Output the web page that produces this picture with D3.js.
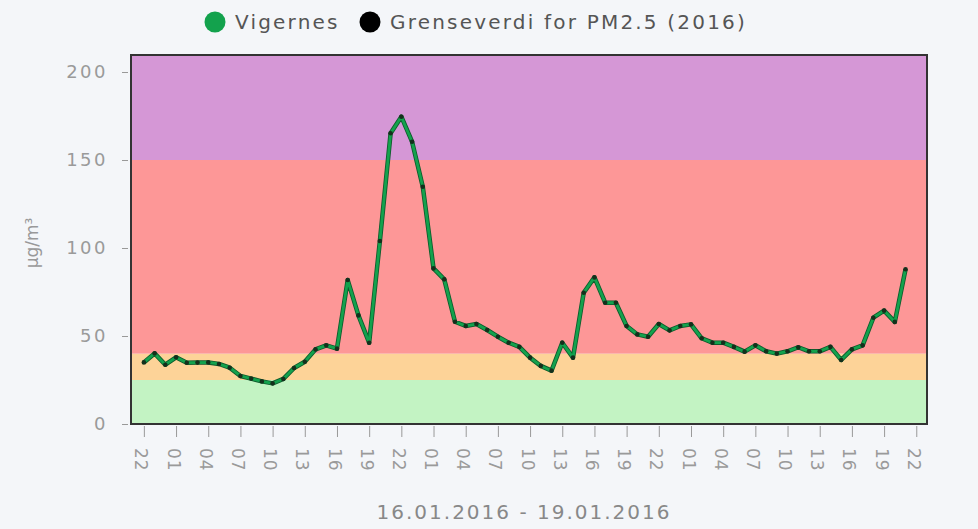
<!DOCTYPE html>
<html>
<head>
<meta charset="utf-8">
<script src="https://cdn.jsdelivr.net/npm/d3@7"></script>
<style>
  body { margin: 0; background: #f4f6f9; }
  svg { display: block; }
  text { font-family: "DejaVu Sans", Verdana, sans-serif; }
</style>
</head>
<body>
<svg id="chart" width="978" height="529"></svg>
<script>
// hourly PM2.5 readings, Vigernes, from 16.01.2016 22:00
var startHour = Date.UTC(2016, 0, 16, 22);
var values = [35.0, 40.1, 33.7, 37.9, 34.8, 34.9, 35.0, 34.1, 32.0, 27.3,
  25.8, 24.2, 23.1, 25.6, 31.8, 35.4, 42.4, 44.7, 42.8, 81.8,
  61.7, 46.2, 104, 165.2, 174.6, 160.4, 134.8, 88.4, 82.2, 58.1,
  55.7, 56.8, 53.4, 49.6, 46.2, 43.8, 37.7, 33.0, 30.3, 46.2,
  37.7, 74.6, 83.3, 68.9, 68.9, 55.7, 50.9, 49.6, 56.8, 53.2,
  55.7, 56.6, 48.7, 46.2, 46.2, 43.8, 41.1, 44.7, 41.3, 40.0,
  41.3, 43.6, 41.3, 41.3, 43.8, 36.4, 42.4, 44.7, 60.4, 64.4,
  58.0, 87.9];
var yTicks = [0, 50, 100, 150, 200];
// limit value bands (Grenseverdi)
var bandLimits = [0, 25, 40, 150, 210];
var bandColors = ["#c3f3c3", "#fdd398", "#fd9797", "#d597d6"];
var seriesNames = ["Vigernes", "Grenseverdi for PM2.5 (2016)"];
var seriesColors = ["#13a24d", "#000000"];
var xTitle = "16.01.2016 - 19.01.2016";
var yTitle = "µg/m³";

var svg = d3.select("#chart");
var plot = {left: 131, right: 927, top: 55, bottom: 424};

var hour = 3600 * 1000;
var data = values.map(function(v, i){ return {t: new Date(startHour + i * hour), v: v}; });

var x = d3.scaleUtc()
  .domain([new Date(startHour - 1.2 * hour), new Date(startHour + 73 * hour)])
  .range([plot.left, plot.right]);
var y = d3.scaleLinear().domain([0, 210]).range([plot.bottom, plot.bottom - 210 * 1.76]);

// bands
svg.append("g").selectAll("rect")
  .data(bandColors)
  .enter().append("rect")
  .attr("x", plot.left)
  .attr("width", plot.right - plot.left)
  .attr("y", function(d, i){ return y(bandLimits[i + 1]); })
  .attr("height", function(d, i){ return y(bandLimits[i]) - y(bandLimits[i + 1]); })
  .attr("fill", function(d){ return d; });

// frame
svg.append("rect")
  .attr("x", plot.left).attr("y", plot.top)
  .attr("width", plot.right - plot.left).attr("height", plot.bottom - plot.top)
  .attr("fill", "none").attr("stroke", "#333").attr("stroke-width", 2);

// y axis
var yAxis = svg.append("g")
  .attr("transform", "translate(" + (plot.left - 3) + ",0)")
  .call(d3.axisLeft(y).tickValues(yTicks).tickSize(6).tickPadding(14));
yAxis.select(".domain").remove();
yAxis.selectAll(".tick line").attr("stroke", "#999");
yAxis.selectAll(".tick text")
  .attr("fill", "#9a9a9a").style("font-size", "18px").style("letter-spacing", "2.5px");

svg.append("text")
  .attr("transform", "translate(38,243) rotate(-90)")
  .attr("text-anchor", "middle")
  .attr("fill", "#999")
  .style("font-size", "17px")
  .text(yTitle);

// x axis
var xTickValues = d3.utcHour.range(new Date(startHour), new Date(startHour + 72 * hour + 1), 3);
var xAxis = svg.append("g")
  .attr("transform", "translate(0," + (plot.bottom + 2) + ")")
  .call(d3.axisBottom(x).tickValues(xTickValues).tickSize(11).tickFormat(d3.utcFormat("%H")));
xAxis.select(".domain").remove();
xAxis.selectAll(".tick line").attr("stroke", "#999");
xAxis.selectAll(".tick text")
  .attr("fill", "#9a9a9a")
  .style("font-size", "17px")
  .style("letter-spacing", "1px")
  .attr("text-anchor", "start")
  .attr("transform", "translate(-3,22) rotate(90)")
  .attr("x", 0).attr("y", 0).attr("dy", "0.35em");

svg.append("text")
  .attr("x", 524).attr("y", 519)
  .attr("text-anchor", "middle")
  .attr("fill", "#888")
  .style("font-size", "20px")
  .style("letter-spacing", "2px")
  .text(xTitle);

// series line
var line = d3.line().x(function(d){ return x(d.t); }).y(function(d){ return y(d.v); });
svg.append("path").datum(data)
  .attr("d", line).attr("fill", "none")
  .attr("stroke", "#0f5a2c").attr("stroke-width", 4.5).attr("stroke-linejoin", "round");
svg.append("path").datum(data)
  .attr("d", line).attr("fill", "none")
  .attr("stroke", seriesColors[0]).attr("stroke-width", 2.8).attr("stroke-linejoin", "round");
svg.append("g").selectAll("circle")
  .data(data)
  .enter().append("circle")
  .attr("cx", function(d){ return x(d.t); })
  .attr("cy", function(d){ return y(d.v); })
  .attr("r", 2.3)
  .attr("fill", "#14301c");

// legend
var legendX = [215, 370];
var legend = svg.append("g").selectAll("g")
  .data(seriesNames)
  .enter().append("g")
  .attr("transform", function(d, i){ return "translate(" + legendX[i] + ",22)"; });
legend.append("circle").attr("r", 10.5).attr("fill", function(d, i){ return seriesColors[i]; });
legend.append("text")
  .attr("x", 20).attr("dy", "0.35em")
  .attr("fill", "#555")
  .style("font-size", "20px")
  .style("letter-spacing", "2.2px")
  .text(function(d){ return d; });
</script>
</body>
</html>
